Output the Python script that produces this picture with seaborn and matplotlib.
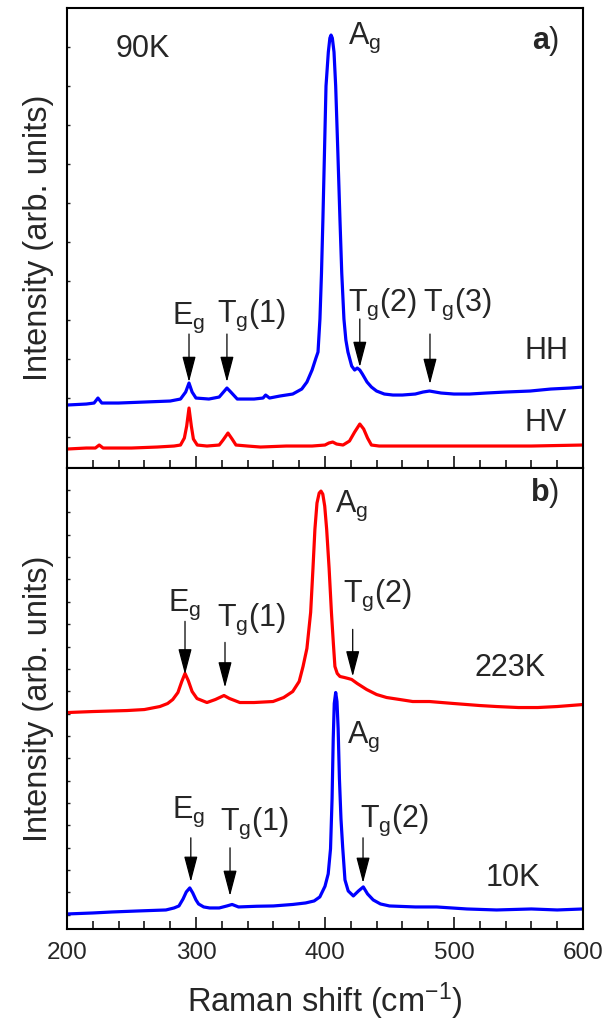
import numpy as np
import pandas as pd
import matplotlib
matplotlib.use("Agg")
import matplotlib.pyplot as plt
import seaborn as sns
from matplotlib.ticker import MultipleLocator, FixedLocator

# ---------------- data ----------------
# panel a) 90K, HH polarisation
hh_x = [200, 215, 221, 224, 227, 240, 260, 280, 288, 292, 294.6, 297, 300, 310, 318, 322, 324, 327, 332,
        345, 352, 354, 357, 365, 375, 382, 386, 390, 393, 394.6, 396.1, 397.3, 398.4, 399.6, 400.8, 402.6,
        403.8, 404.7, 405.7, 407, 408.3, 410, 411.6, 413, 414.7, 416.2, 417.8, 420.7, 423, 425, 427, 429,
        432.6, 436, 440, 446, 452.7, 460, 470, 476, 481, 490, 500, 512, 525, 540, 559, 575, 590, 600]
hh_y = [63, 64, 65, 70, 65, 65, 66, 67, 69, 76, 85, 76, 70, 69, 71, 77, 80, 76, 69,
        69, 70, 73, 70, 72, 74, 79, 86, 98, 110, 116, 149, 195, 249, 315, 382, 416,
        430, 433, 430, 416, 382, 315, 249, 195, 149, 128, 116, 102, 98, 100, 98, 94,
        86, 81, 77, 74, 73, 73, 74, 76, 77, 75, 74, 74, 75, 76, 77, 79, 80, 81]

# panel a) 90K, HV polarisation
hv_x = [200, 215, 222, 225, 228, 250, 270, 283, 288, 291, 292.8, 294.6, 296.4, 298, 301, 308.5, 318, 321,
        324.8, 328, 331, 340, 350, 370, 390, 400, 403, 406, 409, 414, 419, 423, 427, 430, 433, 436, 442,
        460, 480, 500, 530, 560, 600]
hv_y = [19, 20, 20, 23, 20, 20, 21, 22, 23, 30, 42, 60, 42, 29, 23, 22, 23, 28,
        35, 29, 23, 22, 21, 22, 22, 23, 25, 26, 24, 23, 27, 36, 44, 39, 30, 23, 22,
        22, 22, 22, 22, 22, 23]

# panel b) 223K
t223_x = [200, 220, 246.5, 260, 272, 278, 282, 286, 289, 291.5, 294, 297, 300.8, 308.5, 315, 321.7, 326,
          334, 345, 359.7, 368, 375, 380, 383, 386, 388.9, 390.7, 392.2, 393.8, 395.5, 396.9, 398.3, 399.8,
          401.3, 403.2, 405, 406.5, 407.7, 409.5, 411.6, 415, 418, 420.7, 425, 432.3, 440, 447.8, 458, 468,
          481, 500, 520, 533, 550, 565, 580, 600]
t223_y = [216, 217, 218, 219, 222, 225, 229, 236, 247, 255, 248, 237, 230, 226, 229, 233, 230,
          226, 226, 227, 231, 237, 247, 262, 280, 316, 360, 399, 425, 435, 437, 434, 422,
          399, 360, 316, 285, 262, 255, 252, 251, 250, 249, 245, 239, 234, 231, 229, 227,
          227, 225, 223, 222, 221, 221, 222, 224]

# panel b) 10K
t10_x = [200, 220, 235, 255, 276.7, 283, 286.8, 290, 292.5, 295.2, 297.5, 300, 302, 306, 310.6, 318, 324,
         328, 333, 347, 360, 375, 385, 391.6, 396, 400, 402.5, 404.3, 405.5, 406.4, 407.2, 408.3, 409.3,
         410.2, 411.2, 412.4, 413.7, 415.5, 418, 422, 426, 429.7, 433, 437.4, 443, 450, 470, 486.6, 510,
         533, 560, 580, 600]
t10_y = [15, 16, 17, 18, 19, 21, 23, 30, 37, 41, 36, 29, 25, 22, 21, 21, 23,
         24.5, 22, 22.7, 23, 24.5, 26, 28, 32, 42.6, 55, 80, 130, 190, 225, 236, 227,
         200, 150, 110, 82, 49, 38, 33, 38, 42, 35, 29, 25, 23, 22, 22, 20,
         19, 20, 19, 20]

# annotations: (text, x, y) ; arrows: (x, y_tail, y_tip)
labels_a = [(r"E$_\mathregular{g}$", 281.4, 144), (r"T$_\mathregular{g}$(1)", 316.3, 146),
            (r"T$_\mathregular{g}$(2)", 417.8, 157), (r"T$_\mathregular{g}$(3)", 476.0, 157),
            (r"A$_\mathregular{g}$", 417.8, 424), ("HH", 555, 109), ("HV", 555, 37)]
arrows_a = [(294.6, 134, 86), (324.0, 134, 86), (427.0, 149, 101), (481.4, 134, 84)]
labels_b = [(r"E$_\mathregular{g}$", 278.3, 317), (r"T$_\mathregular{g}$(1)", 316.3, 302),
            (r"T$_\mathregular{g}$(2)", 414.0, 326), (r"A$_\mathregular{g}$", 407.8, 416),
            (r"A$_\mathregular{g}$", 417.0, 186), (r"E$_\mathregular{g}$", 281.4, 111),
            (r"T$_\mathregular{g}$(1)", 318.6, 99), (r"T$_\mathregular{g}$(2)", 427.0, 102)]
arrows_b = [(291.5, 307, 254), (322.5, 286, 241), (421.5, 299, 252),
            (296.0, 91, 47), (326.4, 81, 33), (429.5, 91, 46)]

# ---------------- style ----------------
sns.set_style("ticks")
plt.rcParams['font.family'] = ['Liberation Sans', 'DejaVu Sans']
plt.rcParams['mathtext.fontset'] = 'custom'
plt.rcParams['mathtext.rm'] = 'Liberation Sans'
plt.rcParams['mathtext.it'] = 'Liberation Sans:italic'
plt.rcParams['mathtext.bf'] = 'Liberation Sans:bold'

BLUE = '#0000ff'
RED = '#ff0000'
FS = 22
LFS = 23.5

fig = plt.figure(figsize=(6.05, 10.21), dpi=100)
ax1 = fig.add_axes([0.1107, 0.5416, 0.8529, 0.4505])
ax2 = fig.add_axes([0.1107, 0.0901, 0.8529, 0.4515])

df_hh = pd.DataFrame({'x': hh_x, 'y': hh_y})
df_hv = pd.DataFrame({'x': hv_x, 'y': hv_y})
df_223 = pd.DataFrame({'x': t223_x, 'y': t223_y})
df_10 = pd.DataFrame({'x': t10_x, 'y': t10_y})

sns.lineplot(data=df_hh, x='x', y='y', ax=ax1, color=BLUE, lw=2.3, estimator=None)
sns.lineplot(data=df_hv, x='x', y='y', ax=ax1, color=RED, lw=2.3, estimator=None)
sns.lineplot(data=df_223, x='x', y='y', ax=ax2, color=RED, lw=2.3, estimator=None)
sns.lineplot(data=df_10, x='x', y='y', ax=ax2, color=BLUE, lw=2.3, estimator=None)

for ax in (ax1, ax2):
    ax.set_xlim(200, 600)
    ax.set_ylim(0, 460)
    for s in ax.spines.values():
        s.set_visible(True)
        s.set_linewidth(1.5)
        s.set_color('black')
    ax.xaxis.set_major_locator(MultipleLocator(100))
    ax.xaxis.set_minor_locator(MultipleLocator(20))
    ax.tick_params(axis='x', which='major', direction='in', length=9, width=1.3,
                   top=False, bottom=True, labelsize=17.5, pad=9)
    ax.tick_params(axis='x', which='minor', direction='in', length=5.5, width=1.3,
                   top=False, bottom=True)
    ax.tick_params(axis='y', which='both', direction='in', length=2.5, width=1.0,
                   left=True, right=False, labelleft=False)
    ax.set_ylabel("Intensity (arb. units)", fontsize=LFS, labelpad=9)
    ax.set_xlabel("")

ax1.yaxis.set_major_locator(FixedLocator(np.arange(31, 455, 39)))
ax2.yaxis.set_major_locator(FixedLocator(np.arange(438, 5, -22.3)))
ax1.tick_params(axis='x', labelbottom=False)
ax2.set_xlabel(r"Raman shift (cm$^{\mathregular{-1}}$)", fontsize=LFS, labelpad=12)

# text
ax1.text(258.9, 419, "90K", fontsize=FS, ha='center', va='center')
ax1.text(581.4, 419, r"$\mathbf{a}$)", fontsize=FS, ha='right', va='baseline')
ax2.text(581.4, 427, r"$\mathbf{b}$)", fontsize=FS, ha='right', va='baseline')
ax2.text(543.4, 260, "223K", fontsize=FS, ha='center', va='center')
ax2.text(545.7, 51, "10K", fontsize=FS, ha='center', va='center')

for ax, labs, arrs in ((ax1, labels_a, arrows_a), (ax2, labels_b, arrows_b)):
    for t, x, y in labs:
        ax.text(x, y, t, fontsize=FS, ha='left', va='baseline')
    for x, yt, yp in arrs:
        ax.annotate('', xy=(x, yp), xytext=(x, yt),
                    arrowprops=dict(arrowstyle='-|>,head_length=16,head_width=4.2',
                                    mutation_scale=1, lw=0.9, color='black',
                                    shrinkA=0, shrinkB=0))

fig.savefig("out.png", dpi=100)
